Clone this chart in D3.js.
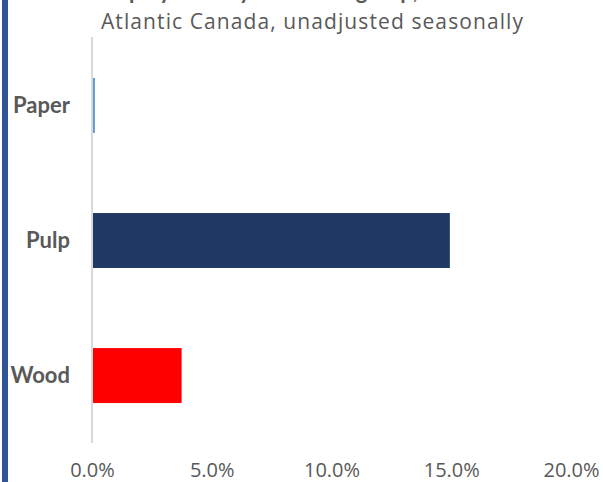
<!DOCTYPE html>
<html><head><meta charset="utf-8">
<script src="https://cdn.jsdelivr.net/npm/d3@7"></script>
<style>html,body{margin:0;padding:0;background:#fff;overflow:hidden}</style>
</head><body>
<script>
const categories = ["Paper", "Pulp", "Wood"];
const values = [0.08, 14.9, 3.7];
const colors = ["#5B9BD5", "#203864", "#FF0000"];
const tickValues = [0, 5, 10, 15, 20];
const titleText = "Employment by subsector group,";
const subtitleText = "Atlantic Canada, unadjusted seasonally";

const W = 603, H = 482;
const font = "Lato, 'Open Sans', sans-serif";
const font2 = "'Open Sans', Lato, sans-serif";
const svg = d3.select("body").append("svg").attr("width", W).attr("height", H);

svg.append("rect").attr("x", 2).attr("y", 0).attr("width", 6).attr("height", H).attr("fill", "#2F5597");

const x = d3.scaleLinear().domain([0, 20]).range([92, 571]);
const y = d3.scaleBand().domain(categories).range([38, 443]).paddingInner(0.593).paddingOuter(0.296);

svg.append("text").attr("x", 418).attr("y", -1).attr("text-anchor", "end")
  .attr("font-family", font).attr("font-weight", "bold").attr("font-size", 22).attr("fill", "#595959").text(titleText);
svg.append("text").attr("x", 101).attr("y", 29).attr("text-anchor", "start")
  .attr("textLength", 422).attr("lengthAdjust", "spacing")
  .attr("font-family", font2).attr("font-size", 21).attr("fill", "#595959").text(subtitleText);

svg.selectAll("rect.bar").data(categories).enter().append("rect").attr("class", "bar")
  .attr("x", x(0) + 1).attr("y", d => y(d))
  .attr("width", (d, i) => Math.max(1.5, x(values[i]) - x(0)))
  .attr("height", y.bandwidth()).attr("fill", (d, i) => colors[i]);

svg.append("line").attr("x1", x(0)).attr("x2", x(0)).attr("y1", 37).attr("y2", 443)
  .attr("stroke", "#d9d9d9").attr("stroke-width", 2);

const yAxis = d3.axisLeft(y).tickSize(0).tickPadding(0);
const gy = svg.append("g").attr("transform", "translate(70,0)").call(yAxis);
gy.select(".domain").remove();
gy.selectAll("text").attr("font-family", font).attr("font-weight", "bold").attr("font-size", 22).attr("fill", "#595959");

const xAxis = d3.axisBottom(x).tickValues(tickValues).tickFormat(d => d.toFixed(1) + "%").tickSize(0).tickPadding(0);
const gx = svg.append("g").attr("transform", "translate(0,463)").call(xAxis);
gx.select(".domain").remove();
gx.selectAll("text").attr("font-family", font2).attr("font-size", 20).attr("fill", "#595959");
</script>
</body></html>
